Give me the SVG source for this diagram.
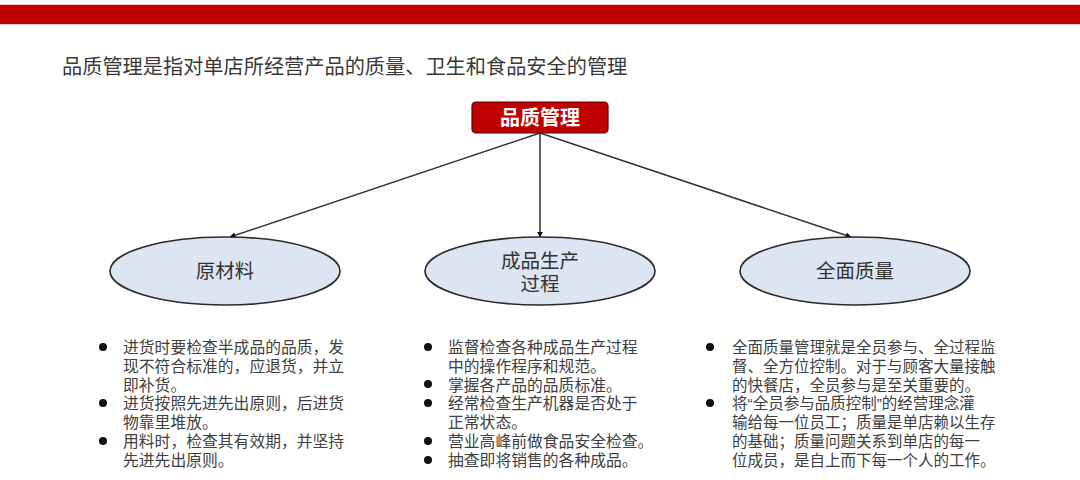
<svg xmlns="http://www.w3.org/2000/svg" width="1080" height="480" viewBox="0 0 1080 480">
<defs>
<style>
text{font-family:"Liberation Sans","Noto Sans CJK SC",sans-serif;fill:#3a3a3a}
.title{font-size:20.2px}
.oval{fill:#dce6f2;stroke:#2b2b2b;stroke-width:1.6}
.olabel{font-size:19.5px;text-anchor:middle;fill:#333}
.body{font-size:15.8px;fill:#404040}
.bul{fill:#111}
.edge{stroke:#333;stroke-width:1.5;fill:none;marker-end:url(#ah)}
</style>
<marker id="ah" viewBox="0 0 10 10" refX="9" refY="5" markerWidth="6" markerHeight="6" orient="auto" markerUnits="userSpaceOnUse">
<path d="M0,0 L10,5 L0,10 z" fill="#111"/>
</marker>
</defs>
<rect x="0" y="0" width="1080" height="480" fill="#fff"/>
<rect x="0" y="4" width="1080" height="21" fill="#f5c6c6"/>
<rect x="0" y="5" width="1080" height="19" fill="#c00000"/>
<text class="title" x="62" y="74">品质管理是指对单店所经营产品的质量、卫生和食品安全的管理</text>

<g id="connectors">
<line class="edge" x1="540" y1="133" x2="230" y2="237"/>
<line class="edge" x1="540" y1="133" x2="540" y2="237"/>
<line class="edge" x1="540" y1="133" x2="851" y2="237"/>
</g>

<g id="node-root">
<rect x="472" y="102" width="136" height="31" rx="4" fill="#c00000" stroke="#5a0000" stroke-width="1.2"/>
<text x="540" y="125" font-size="20" font-weight="bold" text-anchor="middle" style="fill:#fff">品质管理</text>
</g>

<g id="node-raw">
<ellipse class="oval" cx="225" cy="271" rx="115" ry="34"/>
<text class="olabel" x="225" y="278">原材料</text>
</g>
<g id="node-process">
<ellipse class="oval" cx="540" cy="271" rx="115" ry="34"/>
<text class="olabel" x="540" y="268">成品生产</text>
<text class="olabel" x="540" y="291">过程</text>
</g>
<g id="node-total">
<ellipse class="oval" cx="855" cy="271" rx="115" ry="34"/>
<text class="olabel" x="855" y="278">全面质量</text>
</g>

<g id="list-raw">
<circle class="bul" cx="103" cy="347" r="4"/>
<circle class="bul" cx="103" cy="403" r="4"/>
<circle class="bul" cx="103" cy="441" r="4"/>
<text class="body" x="123" y="353">进货时要检查半成品的品质，发</text>
<text class="body" x="123" y="371.8">现不符合标准的，应退货，并立</text>
<text class="body" x="123" y="390.6">即补货。</text>
<text class="body" x="123" y="409.4">进货按照先进先出原则，后进货</text>
<text class="body" x="123" y="428.2">物靠里堆放。</text>
<text class="body" x="123" y="447">用料时，检查其有效期，并坚持</text>
<text class="body" x="123" y="465.8">先进先出原则。</text>
</g>

<g id="list-process">
<circle class="bul" cx="428" cy="347" r="4"/>
<circle class="bul" cx="428" cy="384" r="4"/>
<circle class="bul" cx="428" cy="403" r="4"/>
<circle class="bul" cx="428" cy="441" r="4"/>
<circle class="bul" cx="428" cy="460" r="4"/>
<text class="body" x="448" y="353">监督检查各种成品生产过程</text>
<text class="body" x="448" y="371.8">中的操作程序和规范。</text>
<text class="body" x="448" y="390.6">掌握各产品的品质标准。</text>
<text class="body" x="448" y="409.4">经常检查生产机器是否处于</text>
<text class="body" x="448" y="428.2">正常状态。</text>
<text class="body" x="448" y="447">营业高峰前做食品安全检查。</text>
<text class="body" x="448" y="465.8">抽查即将销售的各种成品。</text>
</g>

<g id="list-total">
<circle class="bul" cx="710" cy="347" r="4"/>
<circle class="bul" cx="710" cy="403" r="4"/>
<text class="body" x="732" y="353" style="font-size:15.5px">全面质量管理就是全员参与、全过程监</text>
<text class="body" x="732" y="371.8" style="font-size:15.5px">督、全方位控制。对于与顾客大量接触</text>
<text class="body" x="732" y="390.6" style="font-size:15.5px">的快餐店，全员参与是至关重要的。</text>
<text class="body" x="732" y="409.4" style="font-size:15.5px">将“全员参与品质控制”的经营理念灌</text>
<text class="body" x="732" y="428.2" style="font-size:15.5px">输给每一位员工；质量是单店赖以生存</text>
<text class="body" x="732" y="447" style="font-size:15.5px">的基础；质量问题关系到单店的每一</text>
<text class="body" x="732" y="465.8" style="font-size:15.5px">位成员，是自上而下每一个人的工作。</text>
</g>
</svg>
